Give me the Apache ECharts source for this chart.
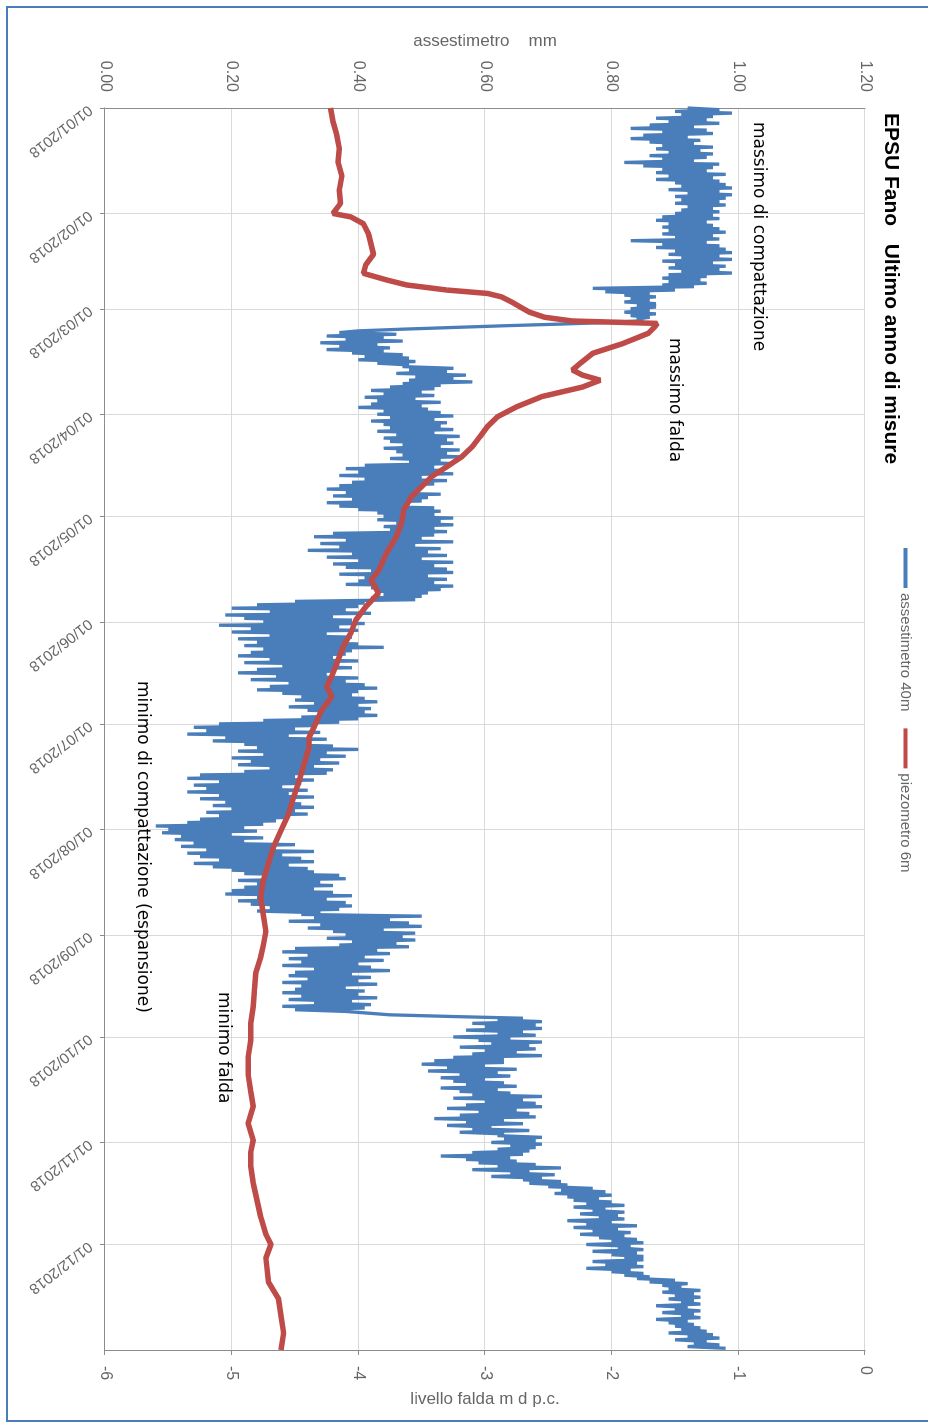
<!DOCTYPE html>
<html>
<head>
<meta charset="utf-8">
<script src="https://cdn.jsdelivr.net/npm/echarts@6.0.0/dist/echarts.min.js"></script>
<style>
html,body{margin:0;padding:0;background:#fff;width:928px;height:1423px;overflow:hidden;}
#chart{position:absolute;left:0;top:0;width:1423px;height:928px;transform-origin:0 0;transform:translate(928px,0) rotate(90deg);background:#fff;}
</style>
</head>
<body>
<div id="chart"></div>
<script>
// ---------- texts ----------
const titleText = 'EPSU Fano   Ultimo anno di misure';
const seriesNames = ['assestimetro 40m', 'piezometro 6m'];
const leftAxisName = 'assestimetro    mm';
const rightAxisName = 'livello falda m d p.c.';
const annotationTexts = ['massimo di compattazione', 'massimo falda', 'minimo di compattazione (espansione)', 'minimo falda'];

// ---------- axis ranges ----------
const startDate = [2018, 0, 1];
const endDate = [2019, 0, 1];
const leftMin = 0, leftMax = 1.2, leftStep = 0.2;
const rightMin = -6, rightMax = 0, rightStep = 1;

// ---------- assestimetro 40m (mm), one reading every 12 h from 01/01/2018 ----------
const blueStepHours = 12;
const blueValues = [
0.92,0.97,0.90,0.99,0.91,0.96,0.87,0.95,0.89,0.97,0.86,0.93,0.83,0.95,0.88,0.96,0.85,0.92,0.83,0.94,
0.86,0.93,0.88,0.96,0.87,0.94,0.89,0.96,0.86,0.95,0.88,0.93,0.82,0.97,0.85,0.96,0.88,0.95,0.87,0.98,
0.89,0.96,0.87,0.97,0.90,0.98,0.91,0.99,0.89,0.97,0.92,0.99,0.90,0.98,0.91,0.97,0.90,0.98,0.92,0.96,
0.91,0.97,0.90,0.96,0.88,0.97,0.87,0.95,0.89,0.96,0.88,0.97,0.89,0.98,0.88,0.96,0.90,0.97,0.83,0.95,
0.88,0.97,0.87,0.98,0.90,0.99,0.89,0.97,0.91,0.99,0.88,0.96,0.90,0.98,0.89,0.97,0.91,0.99,0.89,0.95,
0.88,0.94,0.89,0.95,0.88,0.93,0.77,0.90,0.79,0.86,0.82,0.87,0.83,0.86,0.82,0.87,0.84,0.87,0.83,0.86,
0.82,0.87,0.83,0.86,0.84,0.85,0.80,0.72,0.63,0.55,0.47,0.40,0.37,0.46,0.35,0.44,0.38,0.47,0.34,0.43,
0.37,0.45,0.35,0.44,0.39,0.47,0.41,0.48,0.40,0.49,0.43,0.48,0.47,0.55,0.48,0.54,0.46,0.57,0.49,0.55,
0.48,0.58,0.47,0.53,0.45,0.52,0.42,0.50,0.44,0.52,0.41,0.49,0.43,0.53,0.42,0.50,0.40,0.51,0.44,0.53,
0.43,0.55,0.45,0.52,0.42,0.54,0.44,0.53,0.45,0.55,0.43,0.52,0.46,0.56,0.44,0.54,0.45,0.55,0.47,0.53,
0.44,0.56,0.46,0.54,0.47,0.56,0.45,0.53,0.48,0.55,0.41,0.52,0.38,0.53,0.40,0.55,0.37,0.50,0.41,0.54,
0.39,0.52,0.37,0.50,0.35,0.49,0.38,0.53,0.36,0.51,0.39,0.50,0.35,0.48,0.37,0.52,0.40,0.53,0.43,0.52,
0.44,0.55,0.43,0.53,0.46,0.55,0.44,0.52,0.45,0.54,0.36,0.52,0.33,0.50,0.38,0.55,0.34,0.49,0.37,0.53,
0.32,0.51,0.39,0.54,0.35,0.50,0.40,0.55,0.36,0.52,0.38,0.54,0.42,0.55,0.37,0.51,0.41,0.54,0.40,0.52,
0.38,0.55,0.42,0.53,0.43,0.51,0.44,0.50,0.42,0.49,0.30,0.41,0.24,0.40,0.20,0.38,0.26,0.42,0.19,0.36,
0.22,0.39,0.25,0.41,0.18,0.37,0.23,0.40,0.20,0.35,0.26,0.39,0.21,0.38,0.24,0.40,0.22,0.44,0.25,0.39,
0.23,0.38,0.21,0.36,0.26,0.40,0.22,0.37,0.28,0.39,0.24,0.36,0.21,0.35,0.27,0.40,0.23,0.38,0.29,0.41,
0.26,0.43,0.24,0.40,0.28,0.39,0.31,0.41,0.30,0.43,0.33,0.40,0.29,0.42,0.32,0.41,0.34,0.43,0.31,0.40,
0.25,0.37,0.18,0.33,0.14,0.30,0.16,0.34,0.13,0.29,0.19,0.35,0.17,0.32,0.22,0.36,0.24,0.40,0.21,0.35,
0.25,0.38,0.20,0.34,0.23,0.37,0.21,0.33,0.26,0.36,0.22,0.35,0.15,0.30,0.13,0.33,0.18,0.31,0.14,0.28,
0.16,0.32,0.13,0.29,0.18,0.33,0.15,0.30,0.19,0.31,0.17,0.33,0.20,0.30,0.16,0.32,0.18,0.29,0.15,0.27,
0.13,0.25,0.08,0.22,0.10,0.24,0.09,0.20,0.12,0.25,0.11,0.22,0.14,0.30,0.12,0.27,0.16,0.33,0.13,0.28,
0.15,0.31,0.18,0.33,0.14,0.29,0.17,0.32,0.20,0.33,0.22,0.37,0.25,0.38,0.21,0.34,0.24,0.36,0.22,0.33,
0.20,0.36,0.19,0.39,0.24,0.35,0.21,0.38,0.23,0.39,0.26,0.37,0.24,0.34,0.31,0.50,0.33,0.45,0.29,0.48,
0.34,0.50,0.32,0.44,0.36,0.49,0.38,0.47,0.35,0.49,0.39,0.46,0.37,0.48,0.30,0.43,0.28,0.45,0.32,0.41,
0.29,0.44,0.31,0.40,0.28,0.42,0.33,0.45,0.30,0.39,0.29,0.42,0.32,0.40,0.28,0.43,0.31,0.38,0.30,0.41,
0.28,0.40,0.31,0.43,0.29,0.39,0.33,0.42,0.28,0.41,0.30,0.38,0.38,0.45,0.55,0.66,0.62,0.69,0.58,0.68,
0.60,0.69,0.57,0.66,0.62,0.68,0.55,0.64,0.59,0.69,0.61,0.67,0.56,0.68,0.60,0.65,0.58,0.69,0.55,0.63,
0.52,0.63,0.50,0.60,0.54,0.65,0.51,0.62,0.56,0.64,0.53,0.60,0.55,0.63,0.57,0.65,0.53,0.62,0.56,0.64,
0.58,0.69,0.55,0.66,0.60,0.68,0.57,0.69,0.54,0.65,0.59,0.67,0.56,0.68,0.52,0.63,0.57,0.66,0.54,0.61,
0.58,0.67,0.56,0.63,0.62,0.69,0.63,0.68,0.61,0.69,0.64,0.68,0.62,0.67,0.58,0.66,0.53,0.64,0.57,0.65,
0.59,0.68,0.62,0.72,0.58,0.67,0.64,0.71,0.61,0.69,0.66,0.72,0.67,0.73,0.70,0.77,0.72,0.79,0.71,0.80,
0.73,0.78,0.74,0.80,0.76,0.82,0.74,0.79,0.77,0.82,0.75,0.81,0.78,0.82,0.73,0.80,0.76,0.84,0.74,0.81,
0.77,0.83,0.75,0.82,0.78,0.84,0.80,0.85,0.76,0.83,0.81,0.85,0.77,0.84,0.80,0.85,0.82,0.85,0.77,0.84,
0.79,0.85,0.76,0.83,0.80,0.85,0.82,0.86,0.84,0.90,0.86,0.92,0.88,0.91,0.89,0.94,0.88,0.93,0.90,0.94,
0.89,0.93,0.91,0.94,0.87,0.92,0.90,0.94,0.88,0.93,0.91,0.94,0.87,0.92,0.89,0.93,0.90,0.94,0.91,0.95,
0.89,0.96,0.92,0.97,0.90,0.95,0.93,0.97,0.92,0.98
];

// ---------- piezometro 6m (m d p.c.), day offsets from 01/01/2018 ----------
const redDays = [0,4,8,12,16,20,24,28,31,32,34,37,40,43,46,48.6,50.5,52,53.5,54.5,
55.5,57,58.5,60,61.5,62.6,63.3,64.3,66.2,69.2,72.1,75.1,77,78.5,80,82,84.8,87.8,90.7,93.6,
96.6,99.5,102.4,105.4,108.3,111.3,114.2,118,122,126,131,136,138.7,142.6,146.5,150.5,154.4,158.3,162.2,167,
170,173,177,182,185,188,193,198,202.5,207.4,212.3,217.2,222,227,232,237,242,246,249.4,254.3,
259,264,269,274,279,284,289,293.5,298.4,303.3,307,311,316,321,326,331,334,338,345,350,355,360,365];
const redValues = [-4.22,-4.20,-4.17,-4.15,-4.16,-4.13,-4.15,-4.14,-4.20,-4.06,-3.96,-3.92,-3.90,-3.88,-3.94,-3.96,-3.78,-3.62,-3.30,-2.98,
-2.87,-2.79,-2.72,-2.65,-2.53,-2.31,-1.64,-1.66,-1.71,-1.91,-2.15,-2.25,-2.31,-2.23,-2.09,-2.23,-2.55,-2.75,-2.90,-2.98,
-3.04,-3.10,-3.18,-3.30,-3.42,-3.50,-3.58,-3.64,-3.66,-3.70,-3.78,-3.84,-3.90,-3.84,-3.94,-4.02,-4.06,-4.12,-4.16,-4.21,
-4.25,-4.21,-4.29,-4.35,-4.39,-4.39,-4.43,-4.47,-4.51,-4.55,-4.61,-4.67,-4.71,-4.75,-4.77,-4.75,-4.73,-4.75,-4.77,-4.81,
-4.82,-4.83,-4.85,-4.85,-4.87,-4.87,-4.85,-4.83,-4.87,-4.83,-4.85,-4.85,-4.83,-4.80,-4.77,-4.73,-4.69,-4.73,-4.71,-4.63,
-4.61,-4.59,-4.61];

// ---------- build ----------
const t0 = new Date(startDate[0], startDate[1], startDate[2]).getTime();
const t1 = new Date(endDate[0], endDate[1], endDate[2]).getTime();
const HOUR = 3600000, DAY = 86400000;
const blueData = blueValues.map((v, i) => [t0 + i * blueStepHours * HOUR, v]);
const redData = redDays.map((d, i) => [t0 + d * DAY, redValues[i]]);

const pad = n => (n < 10 ? '0' : '') + n;
const fmtDate = v => { const d = new Date(v); return pad(d.getDate()) + '/' + pad(d.getMonth() + 1) + '/' + d.getFullYear(); };

const FONT = '"Liberation Sans", Arial, sans-serif';
const ANN_FONT = '17px "DejaVu Sans", Verdana, sans-serif';
const gray = '#666666';
const axisLineColor = '#8c8c8c';
const gridColor = '#d9d9d9';

const chart = echarts.init(document.getElementById('chart'), null, { renderer: 'canvas' });
chart.setOption({
  animation: false,
  backgroundColor: '#ffffff',
  textStyle: { fontFamily: FONT },
  title: {
    text: titleText, left: 113, top: 27, padding: 0,
    textStyle: { fontFamily: FONT, fontSize: 21, fontWeight: 'bold', color: '#000' }
  },
  legend: {
    data: seriesNames, left: 548, top: 15, padding: 0, itemGap: 17,
    icon: 'rect', itemWidth: 40, itemHeight: 4,
    textStyle: { fontFamily: FONT, fontSize: 15, color: gray }
  },
  grid: { left: 108, right: 73, top: 63, bottom: 105, containLabel: false },
  xAxis: {
    type: 'time', min: t0, max: t1, splitNumber: 12,
    axisLine: { show: true, lineStyle: { color: axisLineColor } },
    axisTick: { show: true, length: 5, lineStyle: { color: axisLineColor } },
    splitLine: { show: true, lineStyle: { color: gridColor } },
    axisLabel: {
      rotate: -52, margin: 15, fontSize: 15, color: gray, fontFamily: FONT,
      showMaxLabel: false, formatter: v => fmtDate(v)
    }
  },
  yAxis: [
    {
      type: 'value', position: 'left', min: leftMin, max: leftMax, interval: leftStep,
      name: leftAxisName, nameLocation: 'middle', nameRotate: 90, nameGap: 54,
      nameTextStyle: { fontFamily: FONT, fontSize: 17, color: gray },
      axisLine: { show: true, lineStyle: { color: axisLineColor } },
      axisTick: { show: false },
      splitLine: { show: true, lineStyle: { color: gridColor } },
      axisLabel: { margin: 16, fontSize: 16, color: gray, fontFamily: FONT, formatter: v => v.toFixed(2) }
    },
    {
      type: 'value', position: 'right', min: rightMin, max: rightMax, interval: rightStep,
      name: rightAxisName, nameLocation: 'middle', nameRotate: 90, nameGap: 36,
      nameTextStyle: { fontFamily: FONT, fontSize: 17, color: gray },
      axisLine: { show: true, lineStyle: { color: axisLineColor } },
      axisTick: { show: true, length: 5, lineStyle: { color: axisLineColor } },
      splitLine: { show: false },
      axisLabel: { margin: 16, fontSize: 16, color: gray, fontFamily: FONT }
    }
  ],
  series: [
    {
      name: seriesNames[0], type: 'line', yAxisIndex: 0, data: blueData,
      showSymbol: false, symbol: 'none', smooth: false,
      lineStyle: { color: '#4a7ebb', width: 3.3 }, itemStyle: { color: '#4a7ebb' }, z: 2
    },
    {
      name: seriesNames[1], type: 'line', yAxisIndex: 1, data: redData,
      showSymbol: false, symbol: 'none', smooth: false,
      lineStyle: { color: '#be4b48', width: 5.5 }, itemStyle: { color: '#be4b48' }, z: 3
    }
  ],
  graphic: [
    { type: 'rect', silent: true, shape: { x: 7, y: -2, width: 1414, height: 923 },
      style: { fill: 'none', stroke: '#4a7ebb', lineWidth: 2 }, z: 100 },
    { type: 'text', x: 122, y: 170, style: { text: annotationTexts[0], font: ANN_FONT, fill: '#000', align: 'left', verticalAlign: 'middle' }, z: 100 },
    { type: 'text', x: 338, y: 254, style: { text: annotationTexts[1], font: ANN_FONT, fill: '#000', align: 'left', verticalAlign: 'middle' }, z: 100 },
    { type: 'text', x: 681, y: 786, style: { text: annotationTexts[2], font: ANN_FONT, fill: '#000', align: 'left', verticalAlign: 'middle' }, z: 100 },
    { type: 'text', x: 992, y: 705, style: { text: annotationTexts[3], font: ANN_FONT, fill: '#000', align: 'left', verticalAlign: 'middle' }, z: 100 }
  ]
});
</script>
</body>
</html>
